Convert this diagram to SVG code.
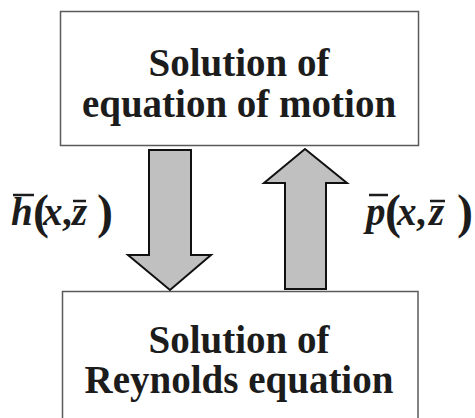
<svg xmlns="http://www.w3.org/2000/svg" width="475" height="418" viewBox="0 0 475 418">
<style>
.box{fill:#fff;stroke:#5a5a5a;stroke-width:1.5}
.arrow{fill:#c0c0c0;stroke:#111;stroke-width:2}
.ol{stroke:#1c1c1c;stroke-width:2.5}
</style>
<rect width="475" height="418" fill="#fff"/>
<g id="motion" font-family="Liberation Serif, serif" font-weight="bold" font-size="39" fill="#1c1c1c" text-anchor="middle">
<rect class="box" x="60.5" y="11.5" width="358" height="134"/>
<text x="239" y="76">Solution of</text>
<text x="239" y="117">equation of motion</text>
</g>
<g id="reynolds" font-family="Liberation Serif, serif" font-weight="bold" font-size="39" fill="#1c1c1c" text-anchor="middle">
<rect class="box" x="62.5" y="291.5" width="355.5" height="140"/>
<text x="239" y="353">Solution of</text>
<text x="239" y="393">Reynolds equation</text>
</g>
<g id="connectors">
<polygon class="arrow" points="149,150 191,150 191,255 211,255 170,290 128,255 149,255"/>
<polygon class="arrow" points="305,149 347,183 326,183 326,289 285,289 285,183 264,183"/>
</g>
<g id="label-h" font-family="Liberation Serif, serif" font-weight="bold" font-size="39" fill="#1c1c1c">
<text y="225"><tspan x="11" font-style="italic">h</tspan><tspan x="33" dy="3" font-size="48">(</tspan><tspan x="43" dy="-3" font-style="italic">x</tspan><tspan x="62">,</tspan><tspan x="72" font-style="italic">z</tspan><tspan x="97" dy="3" font-size="48">)</tspan></text>
<line class="ol" x1="13" y1="195" x2="34" y2="195"/>
<line class="ol" x1="73" y1="201" x2="86" y2="201"/>
</g>
<g id="label-p" font-family="Liberation Serif, serif" font-weight="bold" font-size="39" fill="#1c1c1c">
<text y="225"><tspan x="366" font-style="italic">p</tspan><tspan x="385" dy="3" font-size="48">(</tspan><tspan x="397" dy="-3" font-style="italic">x</tspan><tspan x="416">,</tspan><tspan x="429" font-style="italic">z</tspan><tspan x="457" dy="3" font-size="48">)</tspan></text>
<line class="ol" x1="369" y1="195" x2="388" y2="195"/>
<line class="ol" x1="430" y1="201" x2="445" y2="201"/>
</g>
</svg>
